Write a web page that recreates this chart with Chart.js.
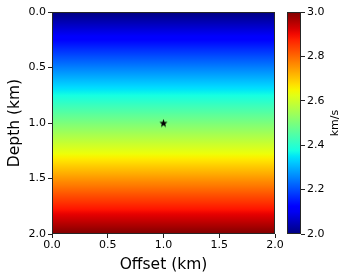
<!DOCTYPE html>
<html>
<head>
<meta charset="utf-8">
<script src="https://cdn.jsdelivr.net/npm/chart.js@4.4.1/dist/chart.umd.min.js"></script>
<style>
  html, body { margin: 0; padding: 0; background: #fff; }
  #wrap { position: relative; width: 349px; height: 280px; }
  canvas { position: absolute; left: 0; top: 0; }
</style>
</head>
<body>
<div id="wrap">
  <canvas id="main" width="349" height="280"></canvas>
  <canvas id="cbar" width="349" height="280"></canvas>
</div>
<script>
// ---- data ----
const offsetKm = [0.0, 2.0];                         // horizontal extent of the model
const depthKm = [0.0, 0.5, 1.0, 1.5, 2.0];           // depth nodes of the velocity profile
const velocityKmS = [2.0, 2.25, 2.5, 2.75, 3.0];     // velocity at those depths
const sourceOffsetKm = [1.0];                        // star marker
const sourceDepthKm = [1.0];
const xTicks = [0.0, 0.5, 1.0, 1.5, 2.0];
const yTicks = [0.0, 0.5, 1.0, 1.5, 2.0];
const cbarTicks = [2.0, 2.2, 2.4, 2.6, 2.8, 3.0];
const vMin = 2.0, vMax = 3.0;

// ---- jet colormap (matplotlib) ----
function seg(pts, t) {
  for (let i = 1; i < pts.length; i++) {
    if (t <= pts[i][0]) {
      const [x0, y0] = pts[i - 1], [x1, y1] = pts[i];
      return y0 + (y1 - y0) * (t - x0) / (x1 - x0);
    }
  }
  return pts[pts.length - 1][1];
}
const JR = [[0,0],[0.35,0],[0.66,1],[0.89,1],[1,0.5]];
const JG = [[0,0],[0.125,0],[0.375,1],[0.64,1],[0.91,0],[1,0]];
const JB = [[0,0.5],[0.11,1],[0.34,1],[0.65,0],[1,0]];
function jet(t) {
  t = Math.max(0, Math.min(1, t));
  return 'rgb(' + Math.round(255*seg(JR,t)) + ',' + Math.round(255*seg(JG,t)) + ',' + Math.round(255*seg(JB,t)) + ')';
}

// gradient along an axis, from (position value, velocity) node pairs
function makeGradient(ctx, scale, positions, velocities, horizontal) {
  const p0 = scale.getPixelForValue(positions[0]);
  const p1 = scale.getPixelForValue(positions[positions.length - 1]);
  const g = ctx.createLinearGradient(0, p0, 0, p1);
  const SUB = 40;
  for (let i = 0; i < positions.length - 1; i++) {
    for (let k = 0; k <= SUB; k++) {
      const f = k / SUB;
      const pos = positions[i] + (positions[i+1] - positions[i]) * f;
      const v = velocities[i] + (velocities[i+1] - velocities[i]) * f;
      const px = scale.getPixelForValue(pos);
      const stop = (px - p0) / (p1 - p0);
      g.addColorStop(Math.max(0, Math.min(1, stop)), jet((v - vMin) / (vMax - vMin)));
    }
  }
  return g;
}

// filled star marker
function starCanvas(size) {
  const c = document.createElement('canvas');
  c.width = size; c.height = size;
  const x = c.getContext('2d');
  const cx = size / 2, cy = size / 2 + 0.4, R = size / 2 - 0.2, r = R * 0.42;
  x.beginPath();
  for (let i = 0; i < 10; i++) {
    const a = -Math.PI / 2 + i * Math.PI / 5;
    const rr = i % 2 === 0 ? R : r;
    const px = cx + rr * Math.cos(a), py = cy + rr * Math.sin(a);
    if (i === 0) x.moveTo(px, py); else x.lineTo(px, py);
  }
  x.closePath();
  x.fillStyle = '#000';
  x.fill();
  return c;
}

const FONT = 'DejaVu Sans';
const TICK_FONT = { family: FONT, size: 11 };
const TITLE_FONT = { family: FONT, size: 15.5 };

const framePlugin = {
  id: 'frame',
  afterDraw(chart) {
    const { ctx, chartArea: a } = chart;
    ctx.save();
    ctx.strokeStyle = '#262626';
    ctx.lineWidth = 1;
    ctx.strokeRect(Math.round(a.left) + 0.5, Math.round(a.top) + 0.5,
                   Math.round(a.right - a.left) - 1, Math.round(a.bottom - a.top) - 1);
    ctx.restore();
  }
};

const fmt = v => Number(v).toFixed(1);

new Chart(document.getElementById('main'), {
  type: 'line',
  data: {
    datasets: [
      {
        label: 'velocity',
        data: [{ x: offsetKm[0], y: depthKm[0] }, { x: offsetKm[1], y: depthKm[0] }],
        borderWidth: 0,
        pointRadius: 0,
        fill: { value: depthKm[depthKm.length - 1] },
        backgroundColor(context) {
          const chart = context.chart;
          if (!chart.chartArea) return 'rgba(0,0,0,0)';
          return makeGradient(chart.ctx, chart.scales.y, depthKm, velocityKmS);
        },
        order: 2
      },
      {
        type: 'scatter',
        label: 'source',
        data: sourceOffsetKm.map((x, i) => ({ x, y: sourceDepthKm[i] })),
        pointStyle: starCanvas(9),
        pointRadius: 5,
        order: 1
      }
    ]
  },
  options: {
    responsive: false,
    animation: false,
    layout: { padding: { left: 0, top: 12, right: 74, bottom: 0 } },
    plugins: { legend: { display: false }, tooltip: { enabled: false } },
    scales: {
      x: {
        type: 'linear', min: offsetKm[0], max: offsetKm[1],
        afterBuildTicks: s => { s.ticks = xTicks.map(v => ({ value: v })); },
        afterFit: s => { s.height = 46; },
        ticks: { font: TICK_FONT, color: '#000', padding: 1, maxRotation: 0, callback: fmt },
        grid: { drawOnChartArea: false, drawTicks: true, tickLength: 4, color: '#222' },
        border: { display: false },
        title: { display: true, text: 'Offset (km)', font: TITLE_FONT, color: '#000', padding: { top: 0, bottom: 6 } }
      },
      y: {
        type: 'linear', reverse: true, min: depthKm[0], max: depthKm[depthKm.length - 1],
        afterBuildTicks: s => { s.ticks = yTicks.map(v => ({ value: v })); },
        afterFit: s => { s.width = 52; },
        ticks: { font: TICK_FONT, color: '#000', padding: 2, callback: fmt },
        grid: { drawOnChartArea: false, drawTicks: true, tickLength: 4, color: '#222' },
        border: { display: false },
        title: { display: true, text: 'Depth (km)', font: TITLE_FONT, color: '#000', padding: { top: 6, bottom: 0 } }
      }
    }
  },
  plugins: [framePlugin]
});

const cbarLabelPlugin = {
  id: 'cbarLabel',
  afterDraw(chart) {
    const { ctx, chartArea: a } = chart;
    ctx.save();
    ctx.translate(335, (a.top + a.bottom) / 2);
    ctx.rotate(-Math.PI / 2);
    ctx.font = '11px "DejaVu Sans"';
    ctx.fillStyle = '#000';
    ctx.textAlign = 'center';
    ctx.textBaseline = 'middle';
    ctx.fillText('km/s', 0, 0);
    ctx.restore();
  }
};

new Chart(document.getElementById('cbar'), {
  type: 'line',
  data: {
    datasets: [{
      label: 'colorbar',
      data: [{ x: 0, y: vMin }, { x: 1, y: vMin }],
      borderWidth: 0,
      pointRadius: 0,
      fill: { value: vMax },
      backgroundColor(context) {
        const chart = context.chart;
        if (!chart.chartArea) return 'rgba(0,0,0,0)';
        return makeGradient(chart.ctx, chart.scales.y, [vMin, vMax], [vMin, vMax]);
      }
    }]
  },
  options: {
    responsive: false,
    animation: false,
    layout: { padding: { left: 287, top: 12, right: 0, bottom: 46 } },
    plugins: { legend: { display: false }, tooltip: { enabled: false } },
    scales: {
      x: { type: 'linear', min: 0, max: 1, display: false },
      y: {
        type: 'linear', position: 'right', min: vMin, max: vMax,
        afterBuildTicks: s => { s.ticks = cbarTicks.map(v => ({ value: v })); },
        afterFit: s => { s.width = 48; },
        ticks: { font: TICK_FONT, color: '#000', padding: 2, callback: fmt },
        grid: { drawOnChartArea: false, drawTicks: true, tickLength: 4, color: '#222' },
        border: { display: false }
      }
    }
  },
  plugins: [framePlugin, cbarLabelPlugin]
});
</script>
</body>
</html>
